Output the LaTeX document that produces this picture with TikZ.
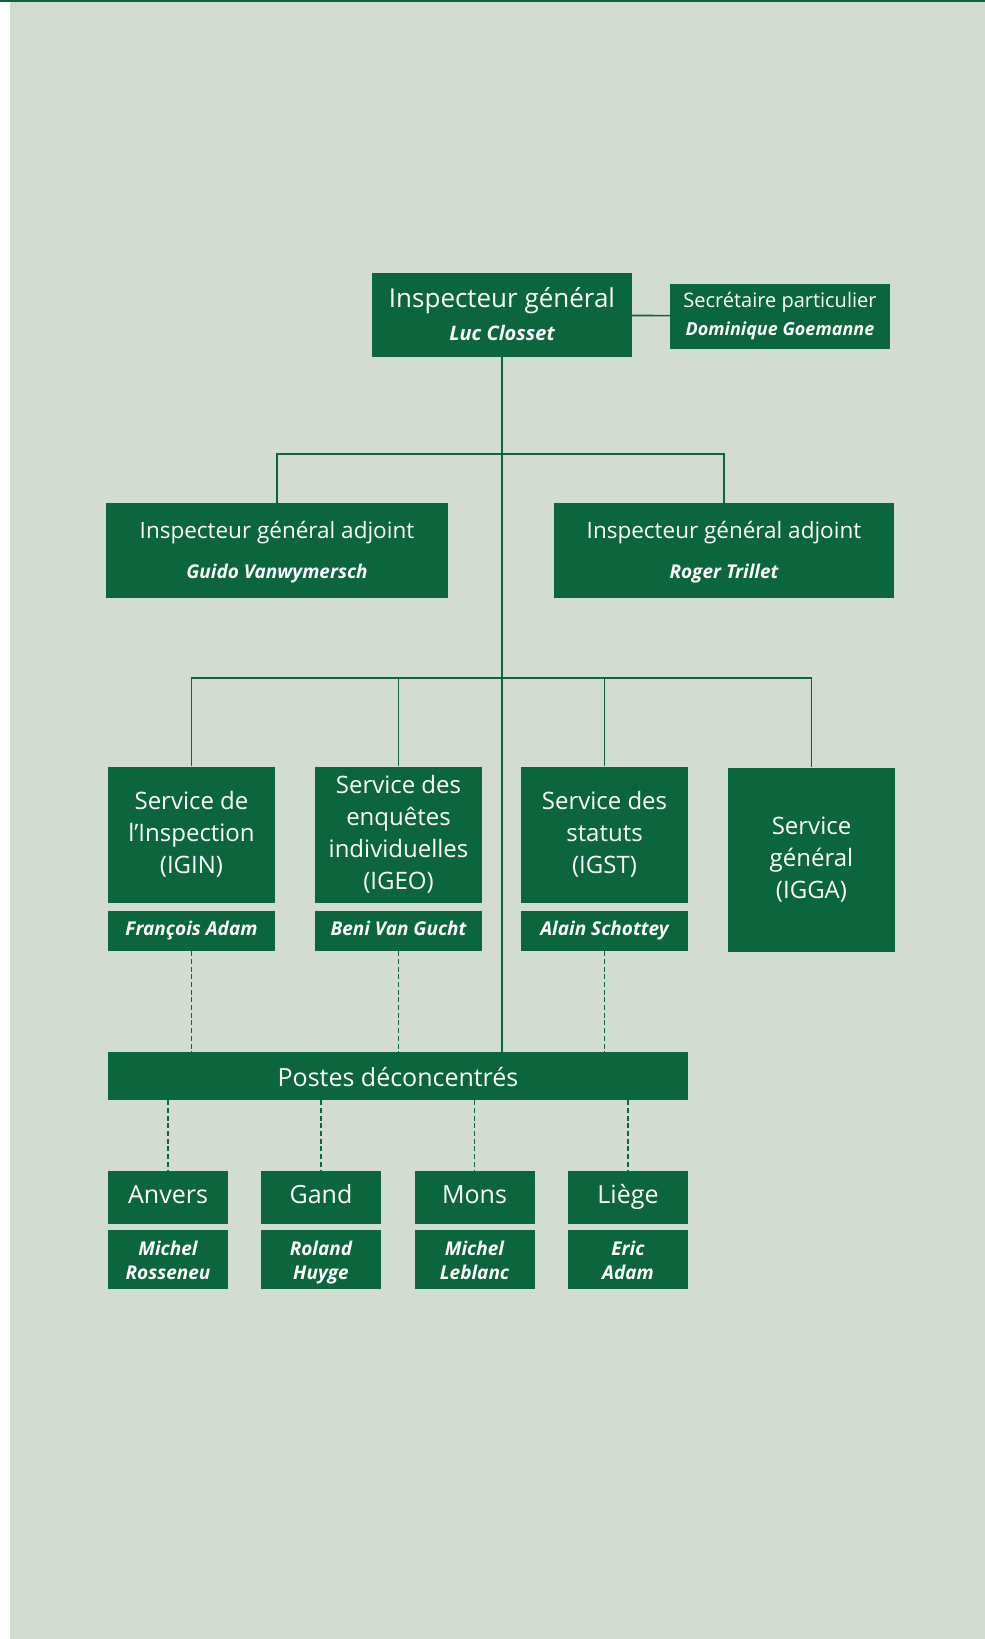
\documentclass[tikz,border=0pt]{standalone}
\usepackage{fontspec}
\setmainfont{Open Sans}
\usetikzlibrary{positioning}
\definecolor{igpgreen}{RGB}{11,102,62}
\definecolor{igpbg}{RGB}{211,220,211}
\newcommand{\namefont}{\bfseries\itshape}
\tikzstyle{box} = [rectangle, fill=igpgreen, text=white, align=center, inner sep=0pt]
\tikzstyle{servicebox} = [box, minimum width=167pt, minimum height=136pt, font=\fontsize{24}{32}\selectfont]
\tikzstyle{namebox} = [box, minimum width=167pt, minimum height=40pt, text height=14pt, text depth=5pt, font=\fontsize{19}{24}\selectfont\namefont]
\tikzstyle{citybox} = [box, minimum width=120pt, minimum height=53pt, text height=19pt, text depth=6pt, font=\fontsize{25}{30}\selectfont]
\tikzstyle{citynamebox} = [box, minimum width=120pt, minimum height=59pt, font=\fontsize{19}{24}\selectfont\namefont]
\tikzstyle{link} = [draw=igpgreen, line width=1.6pt]
\tikzstyle{dotlink} = [link, dash pattern=on 5pt off 2.7pt]

\begin{document}
\begin{tikzpicture}[x=1pt, y=-1pt]
    % Page
    \useasboundingbox (0,0) rectangle (985,1639);
    \fill[white] (0,0) rectangle (985,1639);
    \fill[igpbg] (10,0) rectangle (985,1639);
    \fill[igpgreen] (0,0) rectangle (985,2);

    % Top
    \node[box, minimum width=260pt, minimum height=84pt, font=\fontsize{26}{33}\selectfont] (ig) at (502,315)
        {\rule{0pt}{28pt}Inspecteur général\\\strut\fontsize{20}{33}\selectfont\namefont Luc Closset};
    \node[box, minimum width=220pt, minimum height=65pt, font=\fontsize{20}{28}\selectfont] (sec) at (780,316)
        {\strut Secrétaire particulier\\\strut\fontsize{18}{28}\selectfont\namefont Dominique Goemanne};

    % Adjoints
    \node[box, minimum width=342pt, minimum height=95pt, font=\fontsize{22.5}{40}\selectfont] (adjL) at (277,550.5)
        {\strut Inspecteur général adjoint\\\strut\fontsize{19}{40}\selectfont\namefont Guido Vanwymersch};
    \node[box, minimum width=340pt, minimum height=95pt, font=\fontsize{22.5}{40}\selectfont] (adjR) at (724,550.5)
        {\strut Inspecteur général adjoint\\\strut\fontsize{19}{40}\selectfont\namefont Roger Trillet};

    % Services
    \node[servicebox] (igin) at (191.5,834.5) {Service de\\l’Inspection\\(IGIN)};
    \node[servicebox] (igeo) at (398.5,834.5) {Service des\\enquêtes\\individuelles\\(IGEO)};
    \node[servicebox] (igst) at (604.5,834.5) {Service des\\statuts\\(IGST)};
    \node[servicebox, minimum height=184pt] (igga) at (811.5,859.5) {Service\\général\\(IGGA)};
    \node[namebox, below=8pt of igin] (igin-name) {François Adam};
    \node[namebox, below=8pt of igeo] (igeo-name) {Beni Van Gucht};
    \node[namebox, below=8pt of igst] (igst-name) {Alain Schottey};

    % Postes
    \node[box, minimum width=580pt, minimum height=48pt, text height=23pt, text depth=2pt,
          font=\fontsize{25}{30}\selectfont] (postes) at (398,1076) {Postes déconcentrés};
    \node[citybox] (anvers) at (168,1197) {Anvers};
    \node[citybox] (gand) at (321,1197) {Gand};
    \node[citybox] (mons) at (474.5,1197) {Mons};
    \node[citybox] (liege) at (628,1197) {Liège};
    \node[citynamebox, below=6.5pt of anvers] (anvers-name) {\rule{0pt}{23pt}Michel\\\strut Rosseneu};
    \node[citynamebox, below=6.5pt of gand] (gand-name) {\rule{0pt}{23pt}Roland\\\strut Huyge};
    \node[citynamebox, below=6.5pt of mons] (mons-name) {\rule{0pt}{23pt}Michel\\\strut Leblanc};
    \node[citynamebox, below=6.5pt of liege] (liege-name) {\rule{0pt}{23pt}Eric\\\strut Adam};

    % Lines
    \coordinate (j1) at (502,454);
    \coordinate (j2) at (502,678);
    \draw[link] (ig) -- (sec);
    \draw[link] (ig.south) -- (ig.south |- postes.north);
    \draw[link] (adjL.north) |- (j1) -| (adjR.north);
    \draw[link] (igin.north) |- (j2) -| (igga.north);
    \foreach \s in {igeo, igst}
        \draw[link] (\s.north) -- (\s.north |- j2);
    \foreach \s in {igin, igeo, igst}
        \draw[dotlink] (\s-name.south) -- (\s-name.south |- postes.north);
    \foreach \c in {anvers, gand, mons, liege}
        \draw[dotlink] (postes.south -| \c.north) -- (\c.north);
\end{tikzpicture}
\end{document}
